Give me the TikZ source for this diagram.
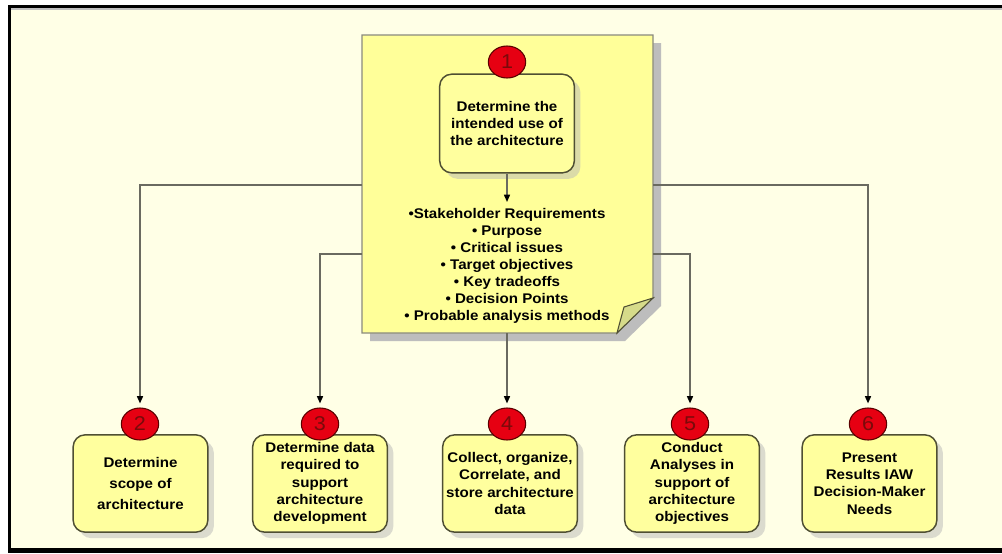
\documentclass[tikz,border=0pt]{standalone}
\usepackage{fontspec}
\setmainfont{Liberation Sans}[FakeStretch=1.08]
\usetikzlibrary{shadows,arrows.meta,shapes.geometric}

\definecolor{cream}{HTML}{FFFFE6}
\definecolor{noteyellow}{HTML}{FFFF99}
\definecolor{noteedge}{HTML}{8A8A7E}
\definecolor{boxyellow}{HTML}{FFFF9E}
\definecolor{boxedge}{HTML}{4F4F33}
\definecolor{wirecol}{HTML}{6A6A60}
\definecolor{badgered}{HTML}{E60012}
\definecolor{badgeedge}{HTML}{5A0000}
\definecolor{badgetext}{HTML}{7A0A0A}
\definecolor{flapcol}{HTML}{D6DB8A}

\tikzset{
  stepbox/.style={draw=boxedge, line width=1.1pt, rounded corners=9pt,
    fill=boxyellow, minimum width=101pt, minimum height=73pt, align=center,
    inner sep=1pt, font=\bfseries\fontsize{10.5}{13}\selectfont,
    drop shadow={shadow xshift=4.5pt, shadow yshift=-4.5pt, fill=black!28}},
  badge/.style={ellipse, draw=badgeedge, line width=0.8pt, fill=badgered,
    minimum width=28pt, minimum height=24pt, inner sep=0pt,
    font=\fontsize{15}{15}\selectfont, text=badgetext},
  wire/.style={draw=wirecol, line width=1.1pt},
  flow/.style={wire, -{Triangle[length=5.5pt,width=4.5pt,color=black]}, shorten >=3pt},
  listtext/.style={align=center, font=\bfseries\fontsize{10.5}{12.75}\selectfont}
}

\begin{document}
\begin{tikzpicture}[x=0.75pt,y=-0.75pt]
\useasboundingbox (0,0) rectangle (1002,553);

% page and frame
\fill[white] (0,0) rectangle (1002,553);
\fill[cream] (9,6) rectangle (1002,549);
\fill[black!25] (10,7) rectangle (1002,10);
\fill[black] (8,5) rectangle (1002,7.5);
\fill[black] (8,5) rectangle (10.5,549);
\fill[black] (8,548) rectangle (1002,553);

% sticky note with folded corner
\fill[black!26] (370,43) -- (661,43) -- (661,306) -- (625,341) -- (370,341) -- cycle;
\draw[noteedge, line width=0.8pt, fill=noteyellow]
  (362,35) -- (653,35) -- (653,298) -- (617,333) -- (362,333) -- cycle;
\draw[boxedge, line width=0.8pt, fill=flapcol]
  (653,298) -- (624,307) .. controls (621,318) .. (617,333) -- cycle;

% anchor points on the note edges
\coordinate (nL1) at (362,185);
\coordinate (nL2) at (362,254);
\coordinate (nR1) at (653,185);
\coordinate (nR2) at (653,254);
\coordinate (nB) at (507,333);
\coordinate (nList) at (507,202);

% step 1
\node[stepbox, minimum height=74pt] (b1) at (507,123.5)
  {Determine the\\intended use of\\the architecture};
\node[badge] (n1) at (507,62) {1};
\draw[flow, shorten >=0pt] (b1.south) -- (nList);

\node[listtext] (lst) at (507,266)
  {•Stakeholder Requirements\\
   • Purpose\\
   • Critical issues\\
   • Target objectives\\
   • Key tradeoffs\\
   • Decision Points\\
   • Probable analysis methods};

% steps 2 to 6
\node[stepbox, font=\bfseries\fontsize{10.5}{16}\selectfont] (b2) at (140.5,483.5)
  {Determine\\scope of\\architecture};
\node[stepbox] (b3) at (320,483.5)
  {Determine data\\required to\\support\\architecture\\development};
\node[stepbox] (b4) at (510,483.5)
  {Collect, organize,\\Correlate, and\\store architecture\\data};
\node[stepbox] (b5) at (692,483.5)
  {Conduct\\Analyses in\\support of\\architecture\\objectives};
\node[stepbox] (b6) at (869.5,483.5)
  {Present\\Results IAW\\Decision-Maker\\Needs};

\node[badge] (n2) at (140,424) {2};
\node[badge] (n3) at (320,424) {3};
\node[badge] (n4) at (507,424) {4};
\node[badge] (n5) at (690,424) {5};
\node[badge] (n6) at (868,424) {6};

% connectors
\draw[flow] (nL1) -| (n2.north);
\draw[flow] (nL2) -| (n3.north);
\draw[flow] (nB) -- (n4.north);
\draw[flow] (nR2) -| (n5.north);
\draw[flow] (nR1) -| (n6.north);
\end{tikzpicture}
\end{document}
